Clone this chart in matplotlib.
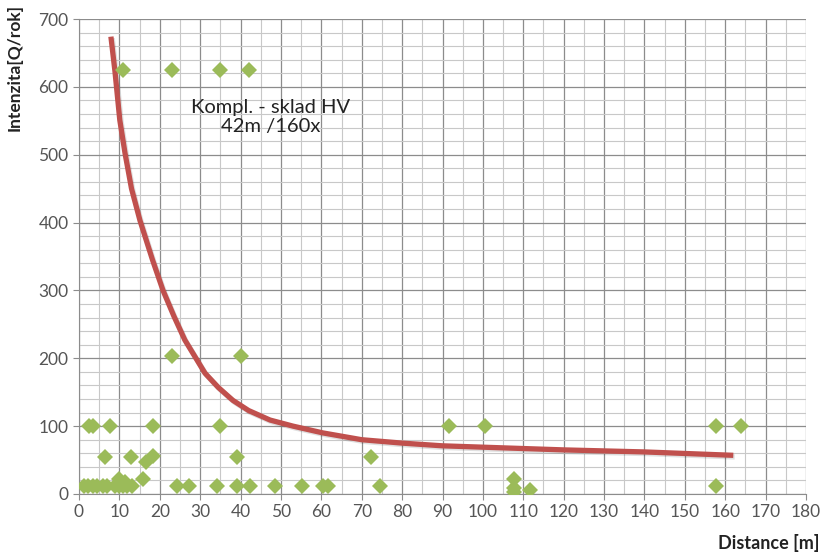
import matplotlib
matplotlib.use('Agg')
import matplotlib.pyplot as plt
import matplotlib.patheffects as pe
from matplotlib.ticker import MultipleLocator

plt.rcParams['font.family'] = ['Lato', 'DejaVu Sans']

# measured points (distance [m], intensity [Q/rok])
dist = [11, 23, 35, 42,
        23, 40,
        2.5, 3.5, 7.7, 18.2, 35, 91.6, 100.5, 157.8, 164,
        6.4, 12.9, 18.2, 16.5, 39, 72.4,
        15.8, 10, 11.5, 107.7,
        1.2, 2.2, 3.5, 4.4, 6, 7, 8.9, 10, 10.9, 12, 13.1,
        24.2, 27.2, 34.2, 39.1, 42.3, 48.5, 55.2, 60.4, 61.6, 74.5,
        107.7, 111.6, 157.8, 107.7]
intens = [625, 625, 625, 625,
          203, 203,
          100, 100, 100, 100, 100, 100, 100, 100, 100,
          54, 54, 56, 47, 54, 54,
          22, 22, 18, 22,
          12, 12, 12, 12, 12, 12, 12, 12, 12, 12, 12,
          12, 12, 12, 12, 12, 12, 12, 12, 12, 12,
          9, 6, 12, 3]

# trend line
trend_x = [7.9, 8.9, 10.1, 11.4, 13, 15.1, 18.2, 20.8, 23.5, 26.2, 31.2, 34.5,
           38.1, 42, 47.3, 53, 60.4, 70, 80, 90, 100, 120, 140, 162]
trend_y = [674, 623, 551, 502, 450, 403, 345, 300, 262, 227, 178, 157,
           138, 123, 109, 100, 90, 80, 75, 71, 69, 65, 62, 57]

fig = plt.figure(figsize=(8.28, 5.52), dpi=100)
ax = fig.add_axes([79/828, 1 - 494/552, (806 - 79)/828, (494 - 19)/552])

ax.set_xlim(0, 180)
ax.set_ylim(0, 700)
ax.xaxis.set_major_locator(MultipleLocator(10))
ax.xaxis.set_minor_locator(MultipleLocator(5))
ax.yaxis.set_major_locator(MultipleLocator(100))
ax.yaxis.set_minor_locator(MultipleLocator(20))
ax.grid(which='major', color='#8c8c8c', lw=0.9)
ax.grid(which='minor', color='#c8c8c8', lw=0.8)
ax.set_axisbelow(True)

for s in ['top', 'right']:
    ax.spines[s].set_visible(False)
for s in ['left', 'bottom']:
    ax.spines[s].set_color('#8c8c8c')
ax.tick_params(which='major', length=4, color='#8c8c8c', labelsize=12.5,
               labelcolor='#555555')
ax.tick_params(which='minor', length=0)

ax.plot(trend_x, trend_y, color='#c0504d', lw=3.8, solid_capstyle='butt',
        path_effects=[pe.SimpleLineShadow(offset=(1, -1.2), alpha=0.12),
                      pe.Normal()], zorder=3)
ax.plot(dist, intens, 'D', color='#9bbb59', markersize=8, markeredgewidth=0,
        zorder=4)

ax.text(47.5, 555, 'Kompl. - sklad HV\n42m /160x', ha='center', va='center',
        fontsize=14.5, color='#222222', linespacing=1.15)

fig.text(15/828, 1 - 4/552, 'Intenzita[Q/rok]', rotation=90, ha='center',
         va='top', fontsize=12.5, fontweight='bold', color='#222222')
fig.text(820/828, 1 - 543/552, 'Distance [m]', ha='right', va='center',
         fontsize=13, fontweight='bold', color='#222222')

fig.savefig('out.png', dpi=100)
